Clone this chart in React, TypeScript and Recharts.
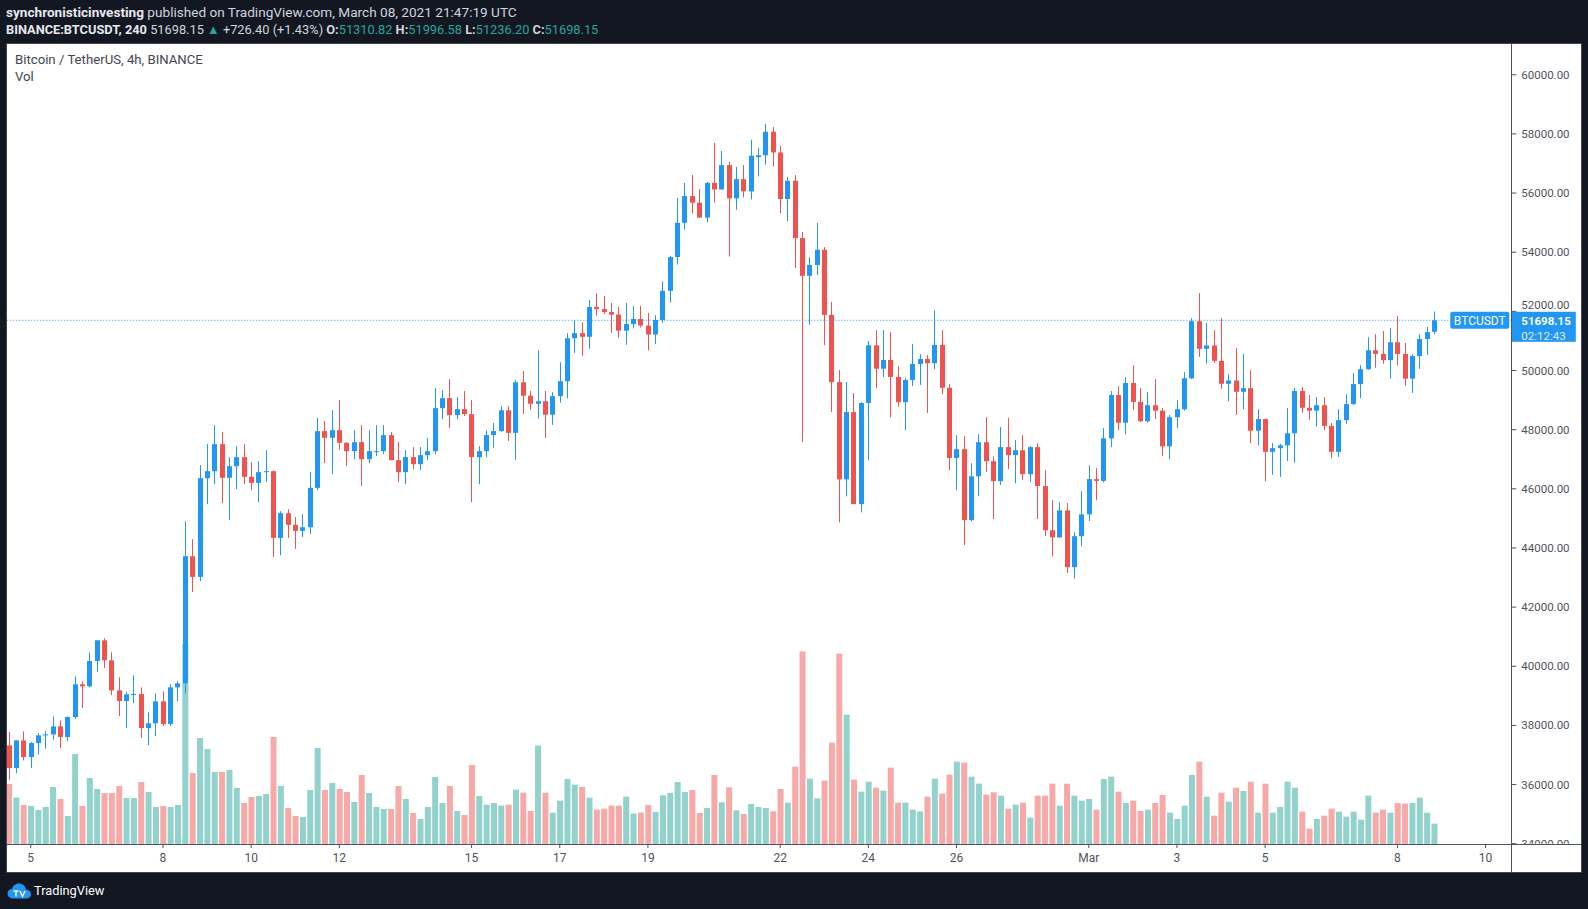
import React from "react";
import { ComposedChart, Bar, XAxis, YAxis, ReferenceLine } from "recharts";

const FONT = "Roboto, 'Liberation Sans', Arial, sans-serif";
const UP = "#2196f3";
const DOWN = "#ef5350";
const VOL_UP = "#92d2cc";
const VOL_DOWN = "#f7a9a7";
const AXIS = "#50535e";
const BG = "#131722";
const TEAL = "#26a69a";

// BINANCE:BTCUSDT 4h candles, Feb 04 12:00 -> Mar 08 20:00 (UTC)
const opens = [
  37324, 36557, 37493, 36929, 37403, 37663, 37697, 37967, 37606, 38282,
  39389, 39321, 40178, 40877, 40201, 39185, 38825, 39040, 39060, 37911,
  38069, 38813, 38046, 39287, 39422, 43720, 43021, 46359, 46596, 47510,
  46371, 46766, 47070, 46405, 46202, 46563, 46596, 44340, 45175, 44780,
  44577, 44701, 46032, 47950, 47724, 47984, 47555, 47273, 47578, 47002,
  47250, 47273, 47815, 46969, 46563, 47070, 46833, 47138, 47273, 48728,
  49067, 48491, 48694, 48525, 47070, 47273, 47817, 47952, 48654, 47891,
  49601, 49146, 48875, 48961, 48506, 49134, 49638, 51090, 51262, 51139,
  52148, 52075, 51976, 51890, 51349, 51570, 51742, 51520, 51218, 51710,
  52694, 53836, 54995, 55898, 55676, 55169, 56343, 56120, 56945, 55819,
  56470, 56057, 57215, 57279, 58072, 57374, 55799, 56415, 54478, 53201,
  53568, 54082, 51881, 49606, 46319, 48594, 45482, 48902, 50853, 50061,
  50354, 49782, 48931, 49679, 50222, 50389, 50247, 50864, 49416, 47042,
  47339, 44941, 46425, 47576, 46935, 46259, 47410, 47137, 47303, 46496,
  47410, 46092, 44597, 44360, 45270, 43350, 44396, 45135, 46328, 46267,
  47706, 49171, 48235, 49577, 48937, 48285, 48826, 48641, 47436, 48420,
  48691, 49737, 51668, 50733, 50844, 50327, 49552, 49663, 49281, 49404,
  47965, 48358, 47251, 47374, 47472, 47879, 49306, 48740, 48641, 48826,
  48125, 47251, 48322, 48863, 49540, 50044, 50684, 50561, 50352, 50955,
  50561, 49724, 50487, 51066, 51310.82,
];

const highs = [
  37775, 37493, 37798, 37437, 37742, 37798, 38305, 38170, 38305, 39659,
  39490, 40471, 40877, 40945, 40471, 39625, 39118, 39693, 39287, 38441,
  39084, 39151, 39389, 39490, 44904, 44295, 46799, 47510, 48153, 47916,
  47070, 47442, 47510, 46901, 46935, 47307, 46620, 45243, 45310, 45040,
  45141, 46563, 48401, 48288, 48661, 48999, 47578, 47984, 48153, 47984,
  48153, 48153, 47916, 47578, 47307, 47409, 47409, 47713, 49405, 49337,
  49710, 49101, 49304, 48999, 47442, 47977, 48223, 48789, 48789, 49675,
  49983, 49306, 50684, 49306, 49269, 50278, 51262, 51705, 51632, 52382,
  52604, 52518, 52284, 52148, 52284, 52173, 52186, 51948, 51869, 53011,
  53868, 55835, 56343, 56612, 56136, 56374, 57691, 57421, 57057, 56882,
  56945, 57802, 57532, 58342, 58231, 57600, 56547, 56606, 54683, 53832,
  54992, 54170, 52321, 50017, 49606, 49239, 48931, 51000, 51367, 51367,
  51294, 50149, 49738, 50897, 50555, 50520, 52039, 51362, 49546, 47813,
  47778, 46864, 47849, 48419, 47101, 48086, 48395, 47647, 47813, 47446,
  47540, 46627, 45618, 45547, 45516, 44532, 45922, 46796, 46697, 48051,
  49306, 49466, 49774, 50180, 49404, 49269, 49712, 48727, 48494, 48998,
  49946, 51767, 52616, 51607, 51361, 51767, 49872, 50758, 50549, 50007,
  48691, 48383, 47546, 47522, 48727, 49404, 49441, 49171, 49097, 49097,
  48223, 48691, 49195, 49909, 50180, 51127, 51226, 51336, 51435, 51841,
  50930, 50549, 51226, 51472, 51996.58,
];

const lows = [
  36162, 36388, 36817, 36557, 37008, 37211, 37516, 37234, 37471, 38215,
  38588, 39288, 39806, 39941, 39027, 38317, 37911, 38757, 37572, 37335,
  37640, 37978, 37978, 38813, 39084, 42513, 42874, 45480, 46156, 45514,
  44938, 45987, 46156, 45953, 45547, 46224, 43697, 43754, 44340, 43968,
  44374, 44476, 45950, 46867, 46495, 47307, 46766, 47002, 46089, 46867,
  47104, 47172, 46969, 46224, 46156, 46664, 46630, 46969, 47172, 48356,
  48051, 48356, 48458, 45547, 46156, 47066, 47386, 47928, 47620, 46980,
  48531, 48666, 48371, 47719, 48162, 48912, 49060, 50598, 50500, 50733,
  51853, 51915, 51275, 51103, 50869, 51423, 51456, 50679, 50901, 51615,
  52297, 53582, 54772, 55311, 55169, 55010, 55676, 56120, 53852, 55438,
  55851, 55787, 56565, 56961, 56898, 55315, 55050, 53465, 47581, 51543,
  53231, 50853, 48594, 44866, 45746, 45482, 45204, 46965, 49401, 49782,
  48417, 48770, 47977, 49474, 49511, 48561, 50045, 49202, 46627, 45950,
  44098, 44906, 45748, 46567, 44977, 46128, 46662, 46187, 46294, 46223,
  44977, 44395, 43719, 44335, 43153, 42969, 44052, 44913, 45614, 46217,
  47411, 47977, 47842, 48666, 48248, 48236, 48358, 47103, 47005, 48051,
  48641, 49712, 50463, 50229, 50266, 49380, 48961, 48494, 48691, 47546,
  47472, 46254, 46476, 46402, 46943, 46882, 48568, 48334, 48100, 47977,
  47030, 47079, 48198, 48838, 49060, 50020, 50093, 50229, 49724, 50180,
  49478, 49245, 50057, 50524, 51236.2,
];

const closes = [
  36557, 37493, 36929, 37403, 37663, 37697, 37967, 37606, 38282, 39389,
  39321, 40178, 40877, 40201, 39185, 38825, 39050, 39060, 37911, 38069,
  38813, 38046, 39287, 39422, 43720, 43021, 46359, 46596, 47510, 46371,
  46766, 47070, 46405, 46202, 46563, 46596, 44340, 45175, 44780, 44577,
  44701, 46032, 47950, 47724, 47984, 47555, 47273, 47578, 47002, 47273,
  47273, 47815, 46969, 46563, 47070, 46833, 47138, 47273, 48728, 49067,
  48491, 48694, 48525, 47070, 47273, 47817, 47952, 48654, 47891, 49601,
  49146, 48875, 48961, 48506, 49134, 49638, 51090, 51262, 51139, 52148,
  52075, 51976, 51890, 51349, 51570, 51742, 51520, 51218, 51710, 52694,
  53836, 54995, 55898, 55676, 55169, 56343, 56120, 56945, 55819, 56470,
  56057, 57263, 57279, 58072, 57374, 55799, 56415, 54478, 53201, 53568,
  54082, 51881, 49606, 46319, 48594, 45482, 48902, 50853, 50061, 50354,
  49782, 48931, 49679, 50222, 50389, 50247, 50864, 49416, 47042, 47339,
  44941, 46425, 47576, 46935, 46259, 47410, 47137, 47303, 46496, 47410,
  46092, 44597, 44360, 45270, 43350, 44396, 45135, 46328, 46267, 47706,
  49171, 48235, 49577, 48937, 48285, 48826, 48641, 47436, 48420, 48691,
  49737, 51668, 50733, 50844, 50327, 49552, 49663, 49281, 49404, 47965,
  48358, 47251, 47374, 47472, 47879, 49306, 48740, 48641, 48826, 48125,
  47251, 48322, 48863, 49540, 50044, 50684, 50561, 50352, 50955, 50561,
  49724, 50487, 51066, 51299, 51698.15,
];

// volume per candle (hundreds of BTC)
const volumes = [
  180, 139, 117, 114, 102, 111, 171, 135, 84, 270,
  114, 198, 165, 153, 153, 174, 138, 138, 186, 156,
  111, 114, 111, 117, 600, 213, 318, 285, 216, 216,
  222, 168, 123, 141, 144, 150, 321, 174, 108, 84,
  81, 162, 288, 162, 183, 165, 156, 126, 207, 153,
  111, 105, 105, 174, 135, 93, 75, 111, 201, 123,
  174, 99, 87, 237, 144, 118, 123, 115, 118, 163,
  154, 99, 295, 154, 94, 130, 195, 178, 171, 139,
  103, 106, 115, 115, 142, 91, 94, 117, 96, 146,
  153, 186, 156, 162, 93, 108, 207, 125, 170, 101,
  90, 120, 111, 108, 98, 165, 124, 232, 578, 196,
  137, 190, 304, 571, 388, 193, 157, 187, 169, 160,
  229, 124, 124, 103, 98, 142, 196, 151, 208, 247,
  244, 202, 181, 148, 155, 145, 106, 118, 124, 79,
  145, 145, 181, 115, 181, 145, 130, 135, 103, 195,
  202, 157, 123, 130, 99, 103, 123, 147, 94, 75,
  115, 207, 247, 142, 85, 154, 127, 169, 159, 187,
  94, 181, 94, 111, 187, 169, 97, 46, 75, 85,
  106, 97, 82, 97, 73, 145, 94, 103, 94, 123,
  121, 123, 139, 94, 61,
];

// 195 candles + empty slots up to Mar 10
const SLOTS = 205;

// slot index of each date label on the time axis
const xTickIdx = [3, 21, 33, 45, 63, 75, 87, 105, 117, 129, 147, 159, 171, 189, 201];
const xTickLabels = ["5", "8", "10", "12", "15", "17", "19", "22", "24", "26", "Mar", "3", "5", "8", "10"];

const priceTicks = [
  34000, 36000, 38000, 40000, 42000, 44000, 46000, 48000, 50000, 52000, 54000,
  56000, 58000, 60000,
];

const lastClose = closes[closes.length - 1];
const countdown = "02:12:43";

const data = Array.from({ length: SLOTS }, (_, i) => ({
  i,
  o: opens[i],
  h: highs[i],
  l: lows[i],
  c: closes[i],
  v: volumes[i],
}));

const tickLabelOf: Record<number, string> = {};
xTickIdx.forEach((v, k) => (tickLabelOf[v] = xTickLabels[k]));

function Candle(props: any) {
  const { x, y, width, height, payload } = props;
  if (!payload || payload.o == null || !isFinite(y) || !isFinite(height)) return <g />;
  const { o, h, l, c } = payload;
  const color = c >= o ? UP : DOWN;
  const top = Math.min(y, y + height);
  const span = Math.abs(height);
  const k = h > l ? span / (h - l) : 0;
  const yOf = (v: number) => top + (h - v) * k;
  const cx = Math.round(x + width / 2);
  const bodyTop = yOf(Math.max(o, c));
  const bodyH = Math.max(1, yOf(Math.min(o, c)) - bodyTop);
  return (
    <g>
      <line x1={cx + 0.5} x2={cx + 0.5} y1={top} y2={top + span} stroke={color} strokeWidth={1} />
      <rect x={cx - 2} y={bodyTop} width={5} height={bodyH} fill={color} />
    </g>
  );
}

function VolumeBar(props: any) {
  const { x, y, width, height, payload } = props;
  if (!payload || payload.v == null || !isFinite(y)) return <g />;
  return (
    <rect
      x={x}
      y={y}
      width={width}
      height={height}
      fill={payload.c >= payload.o ? VOL_UP : VOL_DOWN}
    />
  );
}

function PriceTick(props: any) {
  const { x, y, payload } = props;
  const label = Number(payload.value).toFixed(2);
  const style = { fontSize: 11.5, fontFamily: FONT, fill: AXIS };
  if (payload.value === priceTicks[0]) {
    // bottom label is cut by the time axis line
    return (
      <svg x={x} y={y - 12} width={70} height={12} overflow="hidden">
        <text x={0} y={12} dy={4} {...style}>
          {label}
        </text>
      </svg>
    );
  }
  // the label just above the last-price badge is nudged up so both stay readable
  const nudge = payload.value > lastClose && payload.value - lastClose < 600 ? -6 : 0;
  return (
    <text x={x} y={y + nudge} dy={4} {...style}>
      {label}
    </text>
  );
}

function LastPriceLabel(props: any) {
  const vb = props.viewBox || {};
  const right = (vb.x || 0) + (vb.width || 0);
  const y = vb.y || 0;
  return (
    <g fontFamily={FONT}>
      <rect x={right - 61} y={y - 8.5} width={59} height={17} rx={2} fill={UP} />
      <text x={right - 31.5} y={y} dy={4.3} textAnchor="middle" fill="#fff" fontSize={12}>
        BTCUSDT
      </text>
      <rect x={right + 0.5} y={y - 8.5} width={64} height={30} fill={UP} />
      <text x={right + 10} y={y} dy={4.3} fill="#fff" fontSize={11.5} fontWeight="bold">
        {lastClose.toFixed(2)}
      </text>
      <text x={right + 10} y={y + 15} dy={4.3} fill="rgba(255,255,255,0.85)" fontSize={11.5}>
        {countdown}
      </text>
    </g>
  );
}

const headerText = { color: "#d1d4dc", lineHeight: "17px", whiteSpace: "nowrap" as const };

export default function App() {
  return (
    <div
      style={{
        position: "absolute",
        left: 0,
        top: 0,
        width: 1588,
        height: 909,
        background: BG,
        fontFamily: FONT,
        overflow: "hidden",
      }}
    >
      <div style={{ position: "absolute", left: 6, top: 3.5, fontSize: 13.6, ...headerText }}>
        <b style={{ color: "#e6e8ee" }}>synchronisticinvesting</b> published on TradingView.com, March 08,
        2021 21:47:19 UTC
      </div>
      <div style={{ position: "absolute", left: 6, top: 21, fontSize: 12.8, ...headerText }}>
        <b style={{ color: "#e6e8ee" }}>BINANCE:BTCUSDT, 240</b> 51698.15{" "}
        <span style={{ color: TEAL }}>▲</span> +726.40 (+1.43%) <b>O:</b>
        <span style={{ color: TEAL }}>51310.82</span> <b>H:</b>
        <span style={{ color: TEAL }}>51996.58</span> <b>L:</b>
        <span style={{ color: TEAL }}>51236.20</span> <b>C:</b>
        <span style={{ color: TEAL }}>51698.15</span>
      </div>

      <div
        style={{
          position: "absolute",
          left: 6,
          top: 43,
          width: 1576,
          height: 830,
          background: "#434651",
        }}
      />
      <div
        style={{
          position: "absolute",
          left: 7,
          top: 44,
          width: 1574,
          height: 828,
          background: "#ffffff",
          overflow: "hidden",
        }}
      >
        <div style={{ position: "absolute", left: -1.72, top: 0 }}>
          <ComposedChart
            width={1576}
            height={828}
            data={data}
            margin={{ top: 0, right: 0, bottom: 0, left: 0 }}
          >
            <XAxis
              xAxisId="main"
              dataKey="i"
              type="category"
              ticks={xTickIdx}
              interval={0}
              tickFormatter={(v: number) => tickLabelOf[v] ?? ""}
              axisLine={false}
              tickLine={{ stroke: AXIS }}
              tickSize={4}
              tickMargin={5}
              height={28}
              tick={{ fill: AXIS, fontSize: 12, fontFamily: FONT }}
            />
            <XAxis xAxisId="vol" dataKey="i" type="category" hide />
            <YAxis
              yAxisId="price"
              orientation="right"
              domain={[33990, 61040]}
              ticks={priceTicks}
              interval={0}
              allowDataOverflow
              width={69.7}
              axisLine={false}
              tickLine={{ stroke: AXIS }}
              tickSize={5}
              tickMargin={5}
              tick={PriceTick}
            />
            <YAxis yAxisId="vol" domain={[0, 2400]} allowDataOverflow hide />
            <Bar
              xAxisId="vol"
              yAxisId="vol"
              dataKey="v"
              barSize={6}
              isAnimationActive={false}
              shape={VolumeBar}
            />
            <Bar
              xAxisId="main"
              yAxisId="price"
              dataKey={(d: any) => (d.o == null ? null : [d.l, d.h])}
              barSize={7}
              isAnimationActive={false}
              shape={Candle}
            />
            <ReferenceLine
              xAxisId="main"
              yAxisId="price"
              y={lastClose}
              stroke={UP}
              strokeDasharray="1 2"
              label={(p: any) => <LastPriceLabel {...p} />}
            />
          </ComposedChart>
        </div>

        {/* axis frame lines */}
        <div style={{ position: "absolute", left: 1504, top: 0, width: 1, height: 828, background: AXIS }} />
        <div style={{ position: "absolute", left: 0, top: 800, width: 1574, height: 1, background: AXIS }} />

        <div
          style={{
            position: "absolute",
            left: 8,
            top: 7,
            color: "#434651",
            fontSize: 13.2,
            lineHeight: "17px",
            whiteSpace: "nowrap",
          }}
        >
          <div>Bitcoin / TetherUS, 4h, BINANCE</div>
          <div>Vol</div>
        </div>
      </div>

      <svg style={{ position: "absolute", left: 7, top: 883 }} width={25} height={16}>
        <path
          d="M6 15.5 C2.5 15.5 0.5 13 0.5 10.5 C0.5 8 2.5 6 5 6 C5.8 2.8 8.7 0.5 12 0.5 C15.6 0.5 18.5 3 19 6.4 C21.8 6.7 24 8.8 24 11.2 C24 13.6 22 15.5 19.5 15.5 Z"
          fill={UP}
        />
        <path d="M6.5 8 h5 M9 8 v5.5 M13 8 l2.5 5.5 l2.5 -5.5" stroke="#fff" strokeWidth={1.4} fill="none" />
      </svg>
      <div
        style={{
          position: "absolute",
          left: 34,
          top: 882,
          color: "#ffffff",
          fontSize: 12.8,
          lineHeight: "17px",
        }}
      >
        TradingView
      </div>
    </div>
  );
}
